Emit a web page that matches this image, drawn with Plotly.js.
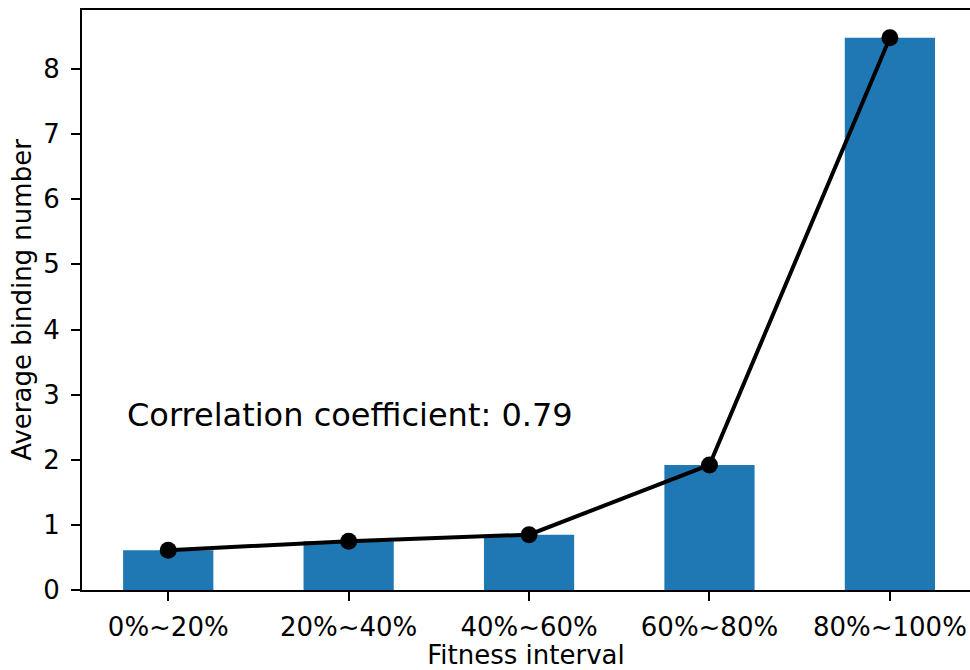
<!DOCTYPE html>
<html>
<head>
<meta charset="utf-8">
<script src="https://cdn.plot.ly/plotly-3.0.1.min.js"></script>
<style>html,body{margin:0;padding:0;background:#fff;}#chart{width:970px;height:670px;}</style>
</head>
<body>
<div id="chart"></div>
<script>
const categories = ["0%~20%", "20%~40%", "40%~60%", "60%~80%", "80%~100%"];
const barValues = [0.61, 0.75, 0.85, 1.92, 8.48];
const lineValues = [0.61, 0.75, 0.85, 1.92, 8.48];
const yTicks = [0, 1, 2, 3, 4, 5, 6, 7, 8];
const correlationText = "Correlation coefficient: 0.79";
const xTitle = "Fitness interval";
const yTitle = "Average binding number";

const font = "DejaVu Sans, sans-serif";

const data = [
  {
    type: "bar",
    x: categories,
    y: barValues,
    width: 0.5,
    marker: {color: "#1f77b4", line: {width: 0}},
    hoverinfo: "skip"
  },
  {
    type: "scatter",
    mode: "lines+markers",
    x: categories,
    y: lineValues,
    line: {color: "#000000", width: 4},
    marker: {color: "#000000", size: 17},
    hoverinfo: "skip"
  }
];

const layout = {
  width: 970,
  height: 670,
  margin: {l: 82, r: 0, t: 10, b: 80, pad: 0},
  paper_bgcolor: "#ffffff",
  plot_bgcolor: "#ffffff",
  showlegend: false,
  font: {family: font, size: 26, color: "#000000"},
  xaxis: {
    type: "category",
    range: [-0.478, 4.444],
    showgrid: false,
    zeroline: false,
    showline: true,
    linecolor: "#000000",
    linewidth: 2,
    mirror: true,
    ticks: "outside",
    ticklen: 9,
    tickwidth: 2,
    tickcolor: "#000000",
    ticklabelstandoff: 4,
    tickfont: {family: font, size: 26, color: "#000000"},
    title: {text: xTitle, font: {family: font, size: 26, color: "#000000"}, standoff: 9}
  },
  yaxis: {
    range: [0, 8.906],
    tickvals: yTicks,
    ticktext: yTicks.map(String),
    showgrid: false,
    zeroline: false,
    showline: true,
    linecolor: "#000000",
    linewidth: 2,
    ticks: "outside",
    ticklen: 9,
    tickwidth: 2,
    tickcolor: "#000000",
    ticklabelstandoff: 6,
    tickfont: {family: font, size: 26, color: "#000000"},
    title: {text: yTitle, font: {family: font, size: 26, color: "#000000"}, standoff: 4}
  },
  annotations: [
    {
      x: -0.24,
      y: 2.69,
      xref: "x",
      yref: "y",
      text: correlationText,
      showarrow: false,
      xanchor: "left",
      yanchor: "middle",
      font: {family: font, size: 32, color: "#000000"}
    }
  ]
};

Plotly.newPlot("chart", data, layout, {displayModeBar: false, staticPlot: true});
</script>
</body>
</html>
